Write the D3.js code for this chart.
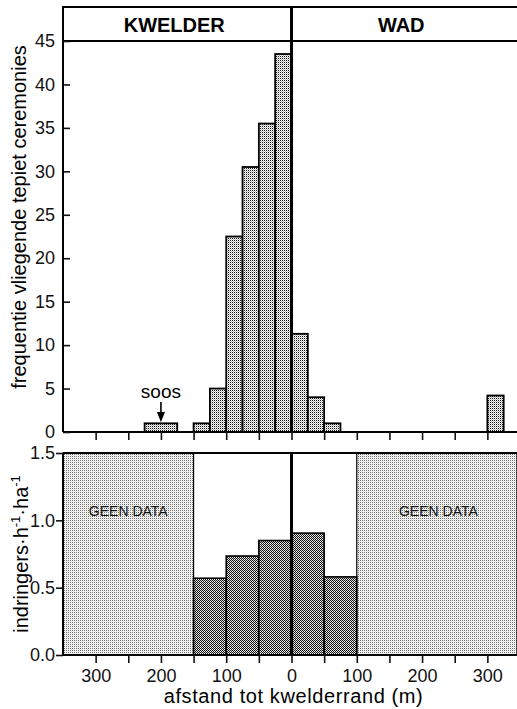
<!DOCTYPE html>
<html>
<head>
<meta charset="utf-8">
<script src="https://cdn.jsdelivr.net/npm/d3@7"></script>
<style>
  body { margin: 0; background: #fff; }
  svg { display: block; font-family: 'Liberation Sans', Arial, Helvetica, sans-serif; }
  .tick text { font-size: 18px; fill: #111; }
  .tick line { stroke: #111; stroke-width: 1.6; }
</style>
</head>
<body>
<svg id="chart" width="517" height="709"></svg>
<script>
// histogram of flying piping ceremonies (bins in m from the saltmarsh edge, negative = kwelder)
const histFrom = [-225, -150, -125, -100, -75, -50, -25, 0, 25, 50, 300];
const histTo = [-175, -125, -100, -75, -50, -25, 0, 25, 50, 75, 325];
const histCount = [1, 1, 5, 22.5, 30.5, 35.5, 43.5, 11.3, 4, 1, 4.2];

// intruders per hour per hectare
const zoneFrom = [-150, -100, -50, 0, 50];
const zoneTo = [-100, -50, 0, 50, 100];
const intruders = [0.57, 0.735, 0.85, 0.905, 0.58];

const noDataFrom = [-350, 100];
const noDataTo = [-150, 350];
const noDataLabel = 'GEEN DATA';

const habitats = ['KWELDER', 'WAD'];
const habitatFrom = [-350, 0];
const habitatTo = [0, 350];

const countTicks = [0, 5, 10, 15, 20, 25, 30, 35, 40, 45];
const rateTicks = [0, 0.5, 1.0, 1.5];
const distTicks = [-300, -250, -200, -150, -100, -50, 0, 50, 100, 150, 200, 250, 300];

const svg = d3.select('#chart');

const x = d3.scaleLinear().domain([-350, 350]).range([63, 520]);
const yTop = d3.scaleLinear().domain([0, 45]).range([432, 41]);
const yBot = d3.scaleLinear().domain([0, 1.5]).range([655, 453]);
const headerTop = 7;

// halftone fills
const defs = svg.append('defs');
function dotPattern(id, cells) {
    const p = defs.append('pattern')
        .attr('id', id)
        .attr('patternUnits', 'userSpaceOnUse')
        .attr('width', 2)
        .attr('height', 2);
    p.append('rect').attr('width', 2).attr('height', 2).attr('fill', '#fff');
    cells.forEach(([cx, cy, colour]) => {
        p.append('rect')
            .attr('x', cx).attr('y', cy)
            .attr('width', 1).attr('height', 1)
            .attr('fill', colour);
    });
}
dotPattern('histFill', [[0, 0, '#111'], [1, 1, '#b8b8b8']]);
dotPattern('rateFill', [[0, 0, '#111'], [1, 1, '#111'], [1, 0, '#d0d0d0']]);
dotPattern('noDataFill', [[0, 0, '#6a6a6a'], [1, 1, '#e4e4e4']]);

// ---- top panel ----
const hist = histCount.map((c, i) => ({ from: histFrom[i], to: histTo[i], count: c }));

svg.append('g')
    .selectAll('rect')
    .data(hist)
    .join('rect')
    .attr('x', d => x(d.from))
    .attr('width', d => x(d.to) - x(d.from))
    .attr('y', d => yTop(d.count))
    .attr('height', d => yTop(0) - yTop(d.count))
    .attr('fill', 'url(#histFill)')
    .attr('stroke', '#000')
    .attr('stroke-width', 1.8);

// header band
const header = svg.append('g');
header.append('line')
    .attr('x1', x(-350) - 1).attr('x2', 517)
    .attr('y1', headerTop).attr('y2', headerTop)
    .attr('stroke', '#000').attr('stroke-width', 2);
header.append('line')
    .attr('x1', x(-350)).attr('x2', 517)
    .attr('y1', yTop(45)).attr('y2', yTop(45))
    .attr('stroke', '#000').attr('stroke-width', 2);
header.selectAll('text')
    .data(habitats)
    .join('text')
    .attr('x', (d, i) => (x(habitatFrom[i]) + Math.min(x(habitatTo[i]), 517)) / 2 - 3)
    .attr('y', 32)
    .attr('text-anchor', 'middle')
    .attr('font-size', 20)
    .attr('font-weight', 'bold')
    .text(d => d);

// frame of top panel
svg.append('line')
    .attr('x1', x(-350)).attr('x2', x(-350))
    .attr('y1', headerTop).attr('y2', yTop(0))
    .attr('stroke', '#000').attr('stroke-width', 2);
svg.append('line')
    .attr('x1', x(-350)).attr('x2', 517)
    .attr('y1', yTop(0)).attr('y2', yTop(0))
    .attr('stroke', '#000').attr('stroke-width', 2.2);
svg.append('line')
    .attr('x1', x(0)).attr('x2', x(0))
    .attr('y1', headerTop).attr('y2', yTop(0))
    .attr('stroke', '#000').attr('stroke-width', 3);

svg.append('g')
    .attr('transform', `translate(${x(-350)},0)`)
    .call(d3.axisLeft(yTop).tickValues(countTicks).tickSize(-7).tickPadding(8))
    .call(g => g.select('.domain').remove());

svg.append('g')
    .attr('transform', `translate(0,${yTop(0)})`)
    .call(d3.axisBottom(x).tickValues(distTicks).tickSize(8).tickFormat(''))
    .call(g => g.select('.domain').remove());

// soos annotation
const soosX = x(-200);
svg.append('text')
    .attr('x', soosX)
    .attr('y', 398)
    .attr('text-anchor', 'middle')
    .attr('font-size', 19)
    .text('soos');
svg.append('line')
    .attr('x1', soosX).attr('x2', soosX)
    .attr('y1', 402).attr('y2', 413)
    .attr('stroke', '#000').attr('stroke-width', 1.6);
svg.append('path')
    .attr('d', `M${soosX - 4},412 L${soosX + 4},412 L${soosX},${yTop(1) - 1} Z`)
    .attr('fill', '#000');

svg.append('text')
    .attr('transform', `translate(26,217) rotate(-90)`)
    .attr('text-anchor', 'middle')
    .attr('font-size', 20)
    .text('frequentie vliegende tepiet ceremonies');

// ---- bottom panel ----
const noData = noDataFrom.map((f, i) => ({ from: f, to: noDataTo[i] }));
svg.append('g')
    .selectAll('rect')
    .data(noData)
    .join('rect')
    .attr('x', d => x(d.from))
    .attr('width', d => Math.min(x(d.to), 517) - x(d.from))
    .attr('y', yBot(1.5))
    .attr('height', yBot(0) - yBot(1.5))
    .attr('fill', 'url(#noDataFill)')
    .attr('stroke', '#000')
    .attr('stroke-width', 1.2);

svg.append('g')
    .selectAll('text')
    .data(noData)
    .join('text')
    .attr('x', d => x((d.from + d.to) / 2))
    .attr('y', yBot(1.0) - 4)
    .attr('text-anchor', 'middle')
    .attr('font-size', 14)
    .attr('fill', '#111')
    .text(noDataLabel);

const zones = intruders.map((v, i) => ({ from: zoneFrom[i], to: zoneTo[i], value: v }));
svg.append('g')
    .selectAll('rect')
    .data(zones)
    .join('rect')
    .attr('x', d => x(d.from))
    .attr('width', d => x(d.to) - x(d.from))
    .attr('y', d => yBot(d.value))
    .attr('height', d => yBot(0) - yBot(d.value))
    .attr('fill', 'url(#rateFill)')
    .attr('stroke', '#000')
    .attr('stroke-width', 1.6);

// frame of bottom panel
svg.append('line')
    .attr('x1', x(-350)).attr('x2', 517)
    .attr('y1', yBot(1.5)).attr('y2', yBot(1.5))
    .attr('stroke', '#000').attr('stroke-width', 2);
svg.append('line')
    .attr('x1', x(-350)).attr('x2', 517)
    .attr('y1', yBot(0)).attr('y2', yBot(0))
    .attr('stroke', '#000').attr('stroke-width', 2.2);
svg.append('line')
    .attr('x1', x(-350)).attr('x2', x(-350))
    .attr('y1', yBot(1.5)).attr('y2', yBot(0))
    .attr('stroke', '#000').attr('stroke-width', 2);
svg.append('line')
    .attr('x1', x(0)).attr('x2', x(0))
    .attr('y1', yBot(1.5)).attr('y2', yBot(0))
    .attr('stroke', '#000').attr('stroke-width', 3);

svg.append('g')
    .attr('transform', `translate(${x(-350)},0)`)
    .call(d3.axisLeft(yBot).tickValues(rateTicks).tickSize(7).tickPadding(1).tickFormat(d3.format('.1f')))
    .call(g => g.select('.domain').remove());

svg.append('g')
    .attr('transform', `translate(0,${yBot(0)})`)
    .call(d3.axisBottom(x).tickValues(distTicks).tickSize(8).tickPadding(6)
        .tickFormat(d => (d % 100 === 0 ? Math.abs(d) : '')))
    .call(g => g.select('.domain').remove());

svg.append('text')
    .attr('x', x(0) + 2)
    .attr('y', 703)
    .attr('text-anchor', 'middle')
    .attr('font-size', 20)
    .attr('letter-spacing', 0.6)
    .text('afstand tot kwelderrand (m)');

const rateTitle = svg.append('text')
    .attr('transform', `translate(28,${(yBot(0) + yBot(1.5)) / 2}) rotate(-90)`)
    .attr('text-anchor', 'middle')
    .attr('font-size', 20);
rateTitle.append('tspan').text('indringers\u00b7h');
rateTitle.append('tspan').attr('dy', -8).attr('font-size', 13).text('-1');
rateTitle.append('tspan').attr('dy', 8).text('\u00b7ha');
rateTitle.append('tspan').attr('dy', -8).attr('font-size', 13).text('-1');
</script>
</body>
</html>
